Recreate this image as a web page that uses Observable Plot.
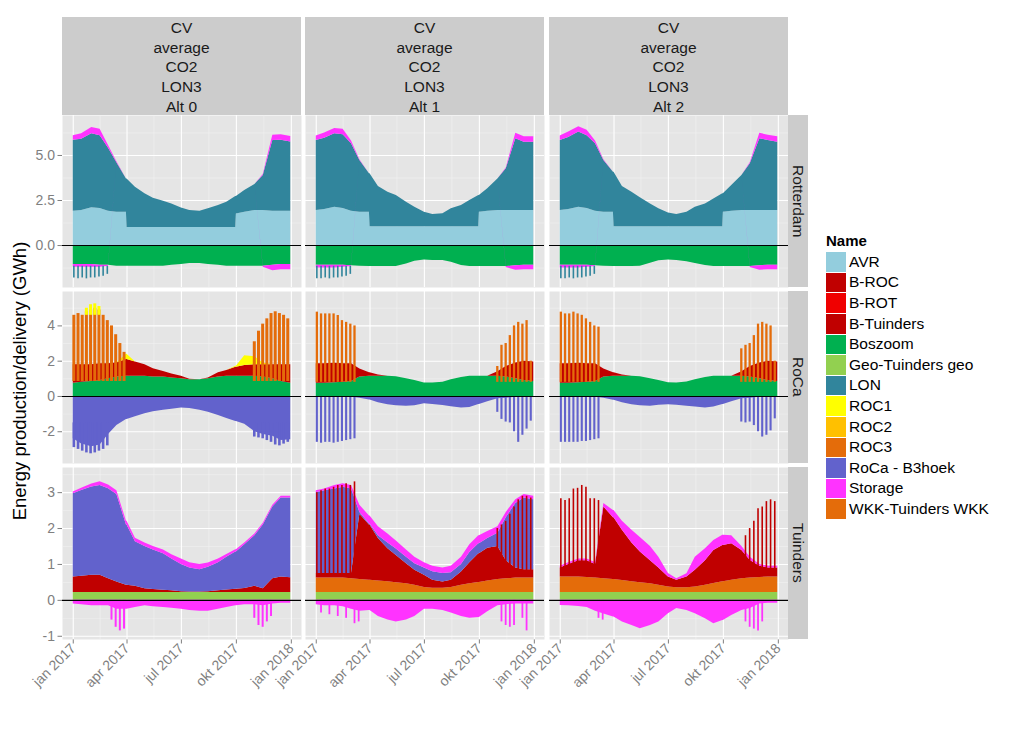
<!DOCTYPE html>
<html><head><meta charset="utf-8">
<script src="https://cdn.jsdelivr.net/npm/d3@7"></script>
<script src="https://cdn.jsdelivr.net/npm/@observablehq/plot@0.6"></script>
<style>
body{margin:0;background:#fff;}
#chart{position:relative;width:1024px;height:729px;font-family:"Liberation Sans",Arial,Helvetica,sans-serif;overflow:hidden;background:#fff;}
#chart svg{overflow:visible;}
.strip{position:absolute;background:#CCCCCC;color:#1A1A1A;font-size:15.5px;text-align:center;box-sizing:border-box;}
</style></head><body><div id="chart"></div>
<script>
// ---------- categories / labels ----------
const names = ["AVR","B-ROC","B-ROT","B-Tuinders","Boszoom","Geo-Tuinders geo","LON","ROC1","ROC2","ROC3","RoCa - B3hoek","Storage","WKK-Tuinders WKK"];
const colors = ["#93CDDD","#C00000","#F00000","#C00000","#00B050","#92D050","#31859C","#FFFF00","#FFC000","#E46C0A","#6262CC","#FF33FF","#E46C0A"];
const headerLines = ["CV","average","CO2","LON3"];
const altLabels = ["Alt 0","Alt 1","Alt 2"];
const rowLabels = ["Rotterdam","RoCa","Tuinders"];
const yTitle = "Energy production/delivery (GWh)";
const legendTitle = "Name";

const xTickDates = ["2017-01-01","2017-04-01","2017-07-01","2017-10-01","2018-01-01"];
const xTickLabels = ["jan 2017","apr 2017","jul 2017","okt 2017","jan 2018"];
const xMinorDates = ["2017-02-15","2017-05-16","2017-08-16","2017-11-16"];

const rotYTicks = [0, 2.5, 5];   const rotYLabels = ["0.0","2.5","5.0"]; const rotYMinor = [-1.25, 1.25, 3.75, 6.25];
const rocaYTicks = [-2, 0, 2, 4]; const rocaYLabels = ["-2","0","2","4"]; const rocaYMinor = [-3, -1, 1, 3, 5];
const tuiYTicks = [-1, 0, 1, 2, 3]; const tuiYLabels = ["-1","0","1","2","3"]; const tuiYMinor = [-0.5, 0.5, 1.5, 2.5, 3.5];

// ---------- dates ----------
const dates = ["2017-01-01","2017-01-15","2017-02-01","2017-02-15","2017-03-01","2017-03-15","2017-03-31","2017-04-01","2017-04-15","2017-05-01","2017-05-15","2017-06-01","2017-06-15","2017-07-01","2017-07-15","2017-08-01","2017-08-15","2017-09-01","2017-09-15","2017-09-30","2017-10-01","2017-10-15","2017-11-01","2017-11-15","2017-12-01","2017-12-15","2017-12-31"];
const spikeDates = ["2017-01-02","2017-01-09","2017-01-16","2017-01-23","2017-01-30","2017-02-06","2017-02-13","2017-02-20","2017-02-27","2017-03-06","2017-03-13","2017-03-20","2017-03-27","2017-10-31","2017-11-07","2017-11-14","2017-11-21","2017-11-28","2017-12-05","2017-12-12","2017-12-19","2017-12-26"];

// ---------- Rotterdam ----------
const rot0_AVR = [1.9,1.95,2.1,2.05,1.9,1.85,1.85,1.0,1.0,1.0,1.0,1.0,1.0,1.0,1.0,1.0,1.0,1.0,1.0,1.0,1.75,1.85,1.95,1.95,1.9,1.9,1.9];
const rot0_LON = [3.95,3.95,4.1,4.05,3.5,2.75,1.85,2.7,2.24,1.87,1.63,1.46,1.31,1.09,0.94,0.91,1.04,1.22,1.41,1.72,0.97,1.21,1.44,1.94,3.93,3.95,3.85];
const rot0_StoragePos = [0.25,0.3,0.35,0.35,0.15,0.05,0,0,0,0,0,0,0,0,0,0,0,0,0,0,0,0,0,0.05,0.3,0.3,0.3];
const rot0_BoszoomNeg = [-1.05,-1.05,-1.05,-1.1,-1.1,-1.15,-1.15,-1.15,-1.15,-1.15,-1.15,-1.15,-1.1,-1.05,-1.0,-1.0,-1.05,-1.1,-1.15,-1.15,-1.15,-1.15,-1.15,-1.15,-1.1,-1.05,-1.05];
const rot0_StorageNeg = [-0.15,-0.15,-0.15,-0.1,-0.05,0,0,0,0,0,0,0,0,0,0,0,0,0,0,0,0,0,0,-0.05,-0.3,-0.3,-0.3];
const rot0_LONSpikeBase = -1.15;
const rot0_LONSpikes = [-1.8,-1.85,-1.8,-1.85,-1.8,-1.8,-1.75,-1.7,-1.6,null,null,null,null,null,null,null,null,null,null,null,null,null];

const rot1_AVR = [1.95,2.0,2.13,2.05,1.9,1.85,1.85,1.05,1.05,1.05,1.05,1.05,1.05,1.05,1.05,1.05,1.05,1.05,1.05,1.05,1.85,1.9,1.95,1.95,1.95,1.95,1.95];
const rot1_LON = [3.88,3.95,4.07,4.1,3.75,2.87,2.13,2.93,2.23,1.91,1.73,1.36,1.08,0.8,0.67,0.71,0.99,1.17,1.45,1.73,0.93,1.25,1.75,2.31,3.98,3.79,3.79];
const rot1_StoragePos = [0.25,0.3,0.3,0.3,0.15,0.05,0,0,0,0,0,0,0,0,0,0,0,0,0,0,0,0,0,0.05,0.3,0.3,0.3];
const rot1_BoszoomNeg = [-1.1,-1.1,-1.1,-1.1,-1.12,-1.15,-1.17,-1.17,-1.17,-1.17,-1.17,-1.02,-0.87,-0.8,-0.83,-0.83,-0.93,-1.11,-1.17,-1.17,-1.17,-1.17,-1.17,-1.17,-1.12,-1.1,-1.1];
const rot1_StorageNeg = [-0.15,-0.15,-0.15,-0.1,-0.05,0,0,0,0,0,0,0,0,0,0,0,0,0,0,0,0,0,0,-0.05,-0.25,-0.25,-0.25];
const rot1_LONSpikeBase = -1.15;
const rot1_LONSpikes = [-1.85,-1.85,-1.8,-1.85,-1.8,-1.8,-1.75,-1.7,-1.6,null,null,null,null,null,null,null,null,null,null,null,null,null];

const rot2_AVR = [1.95,2.0,2.13,2.05,1.9,1.85,1.85,1.05,1.05,1.05,1.05,1.05,1.05,1.05,1.05,1.05,1.05,1.05,1.05,1.05,1.85,1.9,1.95,1.95,1.95,1.95,1.95];
const rot2_LON = [3.88,4.0,4.17,4.05,3.75,2.87,2.22,3.02,2.23,1.91,1.6,1.26,0.99,0.75,0.67,0.8,1.08,1.26,1.54,1.82,1.02,1.43,1.94,2.59,3.98,3.88,3.79];
const rot2_StoragePos = [0.25,0.3,0.3,0.3,0.15,0.05,0,0,0,0,0,0,0,0,0,0,0,0,0,0,0,0,0,0.05,0.3,0.3,0.3];
const rot2_BoszoomNeg = [-1.1,-1.1,-1.1,-1.1,-1.12,-1.15,-1.17,-1.17,-1.17,-1.17,-1.15,-0.98,-0.85,-0.8,-0.83,-0.9,-1.0,-1.11,-1.17,-1.17,-1.17,-1.17,-1.17,-1.17,-1.12,-1.1,-1.1];
const rot2_StorageNeg = [-0.15,-0.15,-0.15,-0.1,-0.05,0,0,0,0,0,0,0,0,0,0,0,0,0,0,0,0,0,0,-0.05,-0.25,-0.25,-0.25];
const rot2_LONSpikeBase = -1.15;
const rot2_LONSpikes = [-1.85,-1.85,-1.8,-1.85,-1.8,-1.8,-1.75,-1.7,-1.6,null,null,null,null,null,null,null,null,null,null,null,null,null];

// ---------- RoCa ----------
const roca0_Boszoom = [0.75,0.8,0.85,0.9,1.0,1.1,1.15,1.15,1.15,1.15,1.1,1.1,1.05,1.0,0.95,0.95,1.0,1.1,1.15,1.15,1.15,1.15,1.15,1.1,1.0,0.85,0.75];
const roca0_BROC = [1.05,1.0,0.95,0.95,0.85,0.8,0.95,0.95,0.8,0.65,0.47,0.32,0.23,0.15,0.02,0,0.05,0.24,0.32,0.51,0.51,0.61,0.65,0.7,0.8,0.95,1.05];
const roca0_ROC1 = [0,0,0,0,0,0,0.3,0.3,0,0,0,0,0,0,0,0,0,0,0,0.05,0.05,0.55,0.45,0.1,0,0,0];
const roca0_B3hoek = [-2.4,-2.7,-2.85,-2.75,-2.15,-1.64,-1.3,-1.3,-1.15,-0.98,-0.87,-0.78,-0.72,-0.66,-0.68,-0.78,-0.9,-1.08,-1.25,-1.42,-1.42,-1.58,-2.0,-2.15,-2.25,-2.5,-2.45];
const roca0_ROC3SpikeBase = 0.85;
const roca0_ROC3Spikes = [4.6,4.7,4.6,4.8,4.9,5.0,4.9,4.6,4.3,4.0,3.5,3.0,2.5,3.1,3.7,4.1,4.4,4.7,4.8,4.7,4.6,4.4];
const roca0_ROC1SpikeBase = 4.6;
const roca0_ROC1Spikes = [null,null,null,5.0,5.2,5.25,5.1,null,null,null,null,null,null,null,null,null,null,null,null,null,null,null];
const roca0_B3hoekSpikeBase = -1.5;
const roca0_B3hoekSpikes = [-2.9,-3.0,-3.1,-3.2,-3.25,-3.2,-3.1,-3.0,-2.8,null,null,null,null,-2.3,-2.35,-2.4,-2.5,-2.6,-2.75,-2.8,-2.7,-2.6];

const roca1_Boszoom = [0.75,0.75,0.78,0.8,0.85,1.1,1.15,1.15,1.15,1.15,1.12,1.0,0.91,0.77,0.77,0.8,0.95,1.08,1.15,1.15,1.15,1.15,1.15,1.1,1.0,0.9,0.85];
const roca1_BROC = [1.1,1.1,1.1,1.05,1.0,0.45,0.2,0.2,0.07,0,0,0,0,0,0,0,0,0,0,0,0,0,0.25,0.6,0.9,1.1,1.1];
const roca1_B3hoek = [-0.05,-0.05,-0.05,-0.05,-0.05,-0.1,-0.2,-0.2,-0.35,-0.47,-0.52,-0.55,-0.52,-0.42,-0.45,-0.51,-0.58,-0.66,-0.62,-0.45,-0.45,-0.3,-0.13,-0.1,-0.05,-0.05,-0.05];
const roca1_ROC3SpikeBase = 0.8;
const roca1_ROC3Spikes = [4.78,4.68,4.68,4.68,4.68,4.59,4.3,4.2,4.1,4.0,null,null,null,1.7,2.9,3.0,3.45,4.0,4.2,4.1,4.3,2.0];
const roca1_B3hoekSpikeBase = 0;
const roca1_B3hoekSpikes = [-2.6,-2.65,-2.6,-2.6,-2.65,-2.6,-2.55,-2.5,-2.45,-2.4,null,null,null,-0.9,-1.3,-1.45,-1.5,-2.0,-2.6,-2.2,-1.85,-1.4];

const roca2_Boszoom = [0.75,0.75,0.78,0.8,0.85,1.1,1.15,1.15,1.15,1.15,1.12,1.0,0.9,0.78,0.77,0.82,0.95,1.08,1.15,1.15,1.15,1.15,1.15,1.1,1.0,0.9,0.85];
const roca2_BROC = [1.1,1.1,1.1,1.05,1.0,0.45,0.2,0.2,0.07,0,0,0,0,0,0,0,0,0,0,0,0,0,0.25,0.6,0.9,1.1,1.1];
const roca2_B3hoek = [-0.05,-0.05,-0.05,-0.05,-0.05,-0.1,-0.22,-0.22,-0.35,-0.47,-0.52,-0.55,-0.5,-0.47,-0.5,-0.55,-0.6,-0.66,-0.6,-0.45,-0.45,-0.3,-0.13,-0.1,-0.05,-0.05,-0.05];
const roca2_ROC3SpikeBase = 0.8;
const roca2_ROC3Spikes = [4.78,4.68,4.68,4.78,4.68,4.6,4.4,4.2,4.0,3.93,null,null,null,2.7,2.9,3.0,3.45,4.1,4.2,4.1,4.0,2.0];
const roca2_B3hoekSpikeBase = 0;
const roca2_B3hoekSpikes = [-2.6,-2.6,-2.6,-2.6,-2.6,-2.55,-2.55,-2.5,-2.45,-2.4,null,null,null,-1.45,-1.5,-1.45,-1.65,-2.0,-2.3,-2.2,-1.95,-1.27];

// ---------- Tuinders ----------
const tui0_Geo = [0.22,0.22,0.22,0.22,0.22,0.22,0.22,0.22,0.22,0.22,0.22,0.22,0.22,0.22,0.22,0.22,0.22,0.22,0.22,0.22,0.22,0.22,0.22,0.22,0.22,0.22,0.22];
const tui0_BTuinders = [0.43,0.45,0.48,0.48,0.38,0.29,0.2,0.2,0.17,0.1,0.08,0.06,0.05,0.02,0.01,0.01,0.02,0.05,0.07,0.09,0.09,0.11,0.17,0.1,0.38,0.43,0.41];
const tui0_B3hoek = [2.32,2.39,2.46,2.5,2.51,2.44,1.68,1.68,1.24,1.18,1.1,1.02,0.88,0.76,0.67,0.62,0.68,0.78,0.91,1.04,1.04,1.22,1.41,1.78,2.0,2.2,2.22];
const tui0_StoragePos = [0.05,0.06,0.08,0.1,0.1,0.1,0.1,0.1,0.1,0.1,0.1,0.1,0.12,0.15,0.15,0.15,0.12,0.1,0.08,0.06,0.06,0.05,0.05,0.05,0.05,0.05,0.05];
const tui0_StorageNeg = [-0.1,-0.12,-0.15,-0.15,-0.15,-0.25,-0.25,-0.25,-0.2,-0.15,-0.18,-0.2,-0.22,-0.25,-0.28,-0.3,-0.3,-0.25,-0.2,-0.15,-0.15,-0.12,-0.12,-0.15,-0.1,-0.08,-0.08];
const tui0_StorageSpikeBase = 0;
const tui0_StorageSpikes = [null,null,null,null,null,null,null,null,null,-0.55,-0.75,-0.85,-0.8,-0.5,-0.7,-0.75,-0.6,-0.45,null,null,null,null];

const tui1_Geo = [0.22,0.22,0.22,0.22,0.22,0.22,0.22,0.22,0.22,0.22,0.22,0.22,0.22,0.22,0.22,0.22,0.22,0.22,0.22,0.22,0.22,0.22,0.22,0.22,0.22,0.22,0.22];
const tui1_WKK = [0.40,0.40,0.40,0.40,0.38,0.36,0.34,0.34,0.32,0.30,0.27,0.24,0.20,0.14,0.12,0.12,0.14,0.20,0.24,0.28,0.28,0.32,0.36,0.38,0.40,0.40,0.40];
const tui1_BTuinders = [0.13,0.13,0.13,0.13,0.15,1.82,1.54,1.54,1.18,0.92,0.76,0.56,0.42,0.34,0.22,0.17,0.2,0.37,0.59,0.8,0.8,0.91,0.92,0.5,0.28,0.23,0.23];
const tui1_B3hoek = [2.25,2.3,2.35,2.4,2.35,0.05,0.03,0.03,0.08,0.16,0.18,0.18,0.18,0.2,0.24,0.24,0.21,0.21,0.28,0.28,0.28,0.27,0.37,1.2,1.8,2.0,1.95];
const tui1_StoragePos = [0.05,0.05,0.1,0.1,0.1,0.2,0.22,0.22,0.25,0.25,0.22,0.2,0.18,0.15,0.15,0.15,0.18,0.2,0.22,0.22,0.22,0.2,0.18,0.15,0.1,0.1,0.1];
const tui1_StorageNeg = [-0.12,-0.15,-0.15,-0.18,-0.25,-0.3,-0.28,-0.28,-0.45,-0.55,-0.6,-0.55,-0.45,-0.25,-0.25,-0.28,-0.35,-0.45,-0.5,-0.48,-0.48,-0.32,-0.15,-0.12,-0.1,-0.1,-0.1];
const tui1_BTuindersSpikeBase = 0.7;
const tui1_BTuindersSpikes = [3.0,3.05,3.1,3.1,3.15,3.2,3.2,3.25,3.2,3.3,null,null,null,2.0,2.1,2.2,2.4,2.6,2.8,2.9,2.9,2.85];
const tui1_StorageSpikeBase = 0;
const tui1_StorageSpikes = [null,-0.35,null,-0.4,null,-0.45,null,-0.5,null,-0.65,-0.6,null,null,null,-0.6,-0.7,-0.75,-0.7,null,-0.5,-0.85,null];

const tui2_Geo = [0.22,0.22,0.22,0.22,0.22,0.22,0.22,0.22,0.22,0.22,0.22,0.22,0.22,0.22,0.22,0.22,0.22,0.22,0.22,0.22,0.22,0.22,0.22,0.22,0.22,0.22,0.22];
const tui2_WKK = [0.43,0.43,0.43,0.42,0.4,0.38,0.36,0.36,0.33,0.3,0.27,0.24,0.2,0.15,0.13,0.13,0.15,0.2,0.25,0.3,0.3,0.34,0.38,0.4,0.42,0.43,0.43];
const tui2_BTuinders = [0.25,0.35,0.45,0.46,0.38,2.0,1.72,1.72,1.4,1.08,0.86,0.64,0.48,0.28,0.21,0.3,0.47,0.68,0.92,1.01,1.01,1.02,0.79,0.49,0.31,0.25,0.25];
const tui2_StoragePos = [0.05,0.05,0.05,0.05,0.05,0.1,0.2,0.2,0.25,0.35,0.4,0.4,0.3,0.1,0.04,0.09,0.36,0.34,0.28,0.28,0.28,0.22,0.11,0.09,0.05,0.05,0.05];
const tui2_StorageNeg = [-0.14,-0.15,-0.17,-0.2,-0.3,-0.38,-0.46,-0.46,-0.6,-0.7,-0.79,-0.7,-0.6,-0.37,-0.23,-0.28,-0.37,-0.51,-0.65,-0.56,-0.56,-0.42,-0.28,-0.23,-0.1,-0.08,-0.08];
const tui2_BTuindersSpikeBase = 0.8;
const tui2_BTuindersSpikes = [2.83,2.78,2.83,3.1,3.12,3.2,3.15,2.83,2.83,2.78,null,null,null,null,1.8,2.0,2.2,2.55,2.6,2.75,2.8,2.75];
const tui2_StorageSpikeBase = 0;
const tui2_StorageSpikes = [null,null,null,null,null,null,null,null,null,-0.5,-0.55,null,null,null,-0.6,-0.75,-0.8,-0.85,-0.6,null,null,null];

// ---------- panel configuration ----------
const rowDomains = [[-2.33, 7.22], [-3.8, 5.95], [-1.09, 3.70]];
const rowTicks = [[rotYTicks, rotYLabels, rotYMinor], [rocaYTicks, rocaYLabels, rocaYMinor], [tuiYTicks, tuiYLabels, tuiYMinor]];

const panels = [
  [
    {series: [["AVR", rot0_AVR], ["LON", rot0_LON], ["Storage", rot0_StoragePos], ["Boszoom", rot0_BoszoomNeg], ["Storage", rot0_StorageNeg]],
     spikes: [["LON", rot0_LONSpikeBase, rot0_LONSpikes, 1.6]]},
    {series: [["AVR", rot1_AVR], ["LON", rot1_LON], ["Storage", rot1_StoragePos], ["Boszoom", rot1_BoszoomNeg], ["Storage", rot1_StorageNeg]],
     spikes: [["LON", rot1_LONSpikeBase, rot1_LONSpikes, 1.6]]},
    {series: [["AVR", rot2_AVR], ["LON", rot2_LON], ["Storage", rot2_StoragePos], ["Boszoom", rot2_BoszoomNeg], ["Storage", rot2_StorageNeg]],
     spikes: [["LON", rot2_LONSpikeBase, rot2_LONSpikes, 1.6]]}
  ],
  [
    {series: [["Boszoom", roca0_Boszoom], ["B-ROC", roca0_BROC], ["ROC1", roca0_ROC1], ["RoCa - B3hoek", roca0_B3hoek]],
     spikes: [["ROC3", roca0_ROC3SpikeBase, roca0_ROC3Spikes, 3], ["ROC1", roca0_ROC1SpikeBase, roca0_ROC1Spikes, 3], ["RoCa - B3hoek", roca0_B3hoekSpikeBase, roca0_B3hoekSpikes, 2.6]]},
    {series: [["Boszoom", roca1_Boszoom], ["B-ROC", roca1_BROC], ["RoCa - B3hoek", roca1_B3hoek]],
     spikes: [["ROC3", roca1_ROC3SpikeBase, roca1_ROC3Spikes, 2.3], ["RoCa - B3hoek", roca1_B3hoekSpikeBase, roca1_B3hoekSpikes, 2.1]]},
    {series: [["Boszoom", roca2_Boszoom], ["B-ROC", roca2_BROC], ["RoCa - B3hoek", roca2_B3hoek]],
     spikes: [["ROC3", roca2_ROC3SpikeBase, roca2_ROC3Spikes, 2.3], ["RoCa - B3hoek", roca2_B3hoekSpikeBase, roca2_B3hoekSpikes, 2.1]]}
  ],
  [
    {series: [["Geo-Tuinders geo", tui0_Geo], ["B-Tuinders", tui0_BTuinders], ["RoCa - B3hoek", tui0_B3hoek], ["Storage", tui0_StoragePos], ["Storage", tui0_StorageNeg]],
     spikes: [["Storage", tui0_StorageSpikeBase, tui0_StorageSpikes, 2]]},
    {series: [["Geo-Tuinders geo", tui1_Geo], ["WKK-Tuinders WKK", tui1_WKK], ["B-Tuinders", tui1_BTuinders], ["RoCa - B3hoek", tui1_B3hoek], ["Storage", tui1_StoragePos], ["Storage", tui1_StorageNeg]],
     spikes: [["B-Tuinders", tui1_BTuindersSpikeBase, tui1_BTuindersSpikes, 1.6], ["Storage", tui1_StorageSpikeBase, tui1_StorageSpikes, 1.8]]},
    {series: [["Geo-Tuinders geo", tui2_Geo], ["WKK-Tuinders WKK", tui2_WKK], ["B-Tuinders", tui2_BTuinders], ["Storage", tui2_StoragePos], ["Storage", tui2_StorageNeg]],
     spikes: [["B-Tuinders", tui2_BTuindersSpikeBase, tui2_BTuindersSpikes, 1.6], ["Storage", tui2_StorageSpikeBase, tui2_StorageSpikes, 1.8]]}
  ]
];

// ---------- layout ----------
const colLefts = [62, 305, 549];
const rowTops = [115, 291, 467];
const PW = 239, PH = 172;
const xDomain = [new Date("2016-12-14"), new Date("2018-01-18")];
const xLabelMap = new Map(xTickDates.map((d, i) => [+new Date(d), xTickLabels[i]]));
const FONT = '"Liberation Sans", Arial, Helvetica, sans-serif';

const chart = document.getElementById("chart");
function add(el, left, top) {
  el.style.position = "absolute";
  el.style.left = left + "px";
  el.style.top = top + "px";
  chart.appendChild(el);
  return el;
}

panels.forEach((rowPanels, r) => rowPanels.forEach((p, c) => {
  const isLeft = c === 0, isBottom = r === 2;
  const mL = isLeft ? 62 : 0, mB = isBottom ? 80 : 0;
  const [yt, yl, ym] = rowTicks[r];
  const yLabelMap = new Map(yt.map((v, i) => [v, yl[i]]));

  const rows = [];
  p.series.forEach(([name, vals], k) => vals.forEach((v, i) => rows.push({date: new Date(dates[i]), value: v, name, k})));
  const order = p.series.map((_, k) => k);

  const spikeMarks = p.spikes.map(([name, base, tops, w]) => {
    const sp = [];
    tops.forEach((t, i) => { if (t != null) sp.push({date: new Date(spikeDates[i]), lo: base, hi: t, name}); });
    return Plot.ruleX(sp, {x: "date", y1: "lo", y2: "hi", stroke: "name", strokeWidth: w});
  });

  const svg = Plot.plot({
    width: PW + mL, height: PH + mB,
    marginLeft: mL, marginRight: 0, marginTop: 0, marginBottom: mB,
    style: {fontFamily: FONT, fontSize: "14px", color: "#7F7F7F", background: "transparent", overflow: "visible"},
    x: {type: "utc", domain: xDomain, axis: isBottom ? "bottom" : null, ticks: xTickDates.map(d => new Date(d)),
        tickFormat: d => xLabelMap.get(+d), tickRotate: -45, tickSize: 4.5, tickPadding: 2, label: null},
    y: {domain: rowDomains[r], axis: isLeft ? "left" : null, ticks: yt, tickFormat: d => yLabelMap.get(d),
        tickSize: 4.5, tickPadding: 3, label: null},
    color: {domain: names, range: colors},
    marks: [
      Plot.frame({fill: "#E5E5E5", stroke: "none"}),
      Plot.ruleY(ym, {stroke: "#F2F2F2", strokeWidth: 0.55}),
      Plot.ruleX(xMinorDates.map(d => new Date(d)), {stroke: "#F2F2F2", strokeWidth: 0.55}),
      Plot.ruleY(yt, {stroke: "#FFFFFF", strokeWidth: 1.1}),
      Plot.ruleX(xTickDates.map(d => new Date(d)), {stroke: "#FFFFFF", strokeWidth: 1.1}),
      Plot.areaY(rows, {x: "date", y: "value", z: "k", fill: "name", order}),
      ...spikeMarks,
      Plot.ruleY([0], {stroke: "#000000", strokeWidth: 1.1})
    ]
  });
  add(svg, colLefts[c] - mL, rowTops[r]);
}));

// ---------- column strips ----------
altLabels.forEach((alt, c) => {
  const d = document.createElement("div");
  d.className = "strip";
  d.style.width = PW + "px";
  d.style.height = "98px";
  d.style.lineHeight = "19.7px";
  d.style.paddingTop = "1px";
  d.innerHTML = [...headerLines, alt].map(t => `<div>${t}</div>`).join("");
  add(d, colLefts[c], 17);
});

// ---------- row strips ----------
rowLabels.forEach((lab, r) => {
  const d = document.createElement("div");
  d.className = "strip";
  d.style.width = "20px";
  d.style.height = PH + "px";
  d.style.display = "flex";
  d.style.alignItems = "center";
  d.style.justifyContent = "center";
  const s = document.createElement("span");
  s.textContent = lab;
  s.style.writingMode = "vertical-rl";
  s.style.whiteSpace = "nowrap";
  d.appendChild(s);
  add(d, 788, rowTops[r]);
});

// ---------- y title ----------
{
  const d = document.createElement("div");
  d.textContent = yTitle;
  d.style.fontSize = "18.5px";
  d.style.color = "#000";
  d.style.whiteSpace = "nowrap";
  d.style.lineHeight = "20px";
  d.style.transform = "translate(-50%,-50%) rotate(-90deg)";
  add(d, 20, 381);
}

// ---------- legend ----------
{
  const t = document.createElement("div");
  t.textContent = legendTitle;
  t.style.fontSize = "15px";
  t.style.fontWeight = "bold";
  t.style.color = "#000";
  t.style.lineHeight = "16px";
  add(t, 826, 233);
  names.forEach((n, i) => {
    const top = 251.7 + i * 20.6;
    const sw = document.createElement("div");
    sw.style.width = "20px";
    sw.style.height = "19.6px";
    sw.style.background = colors[i];
    add(sw, 826, top + 0.5);
    const lb = document.createElement("div");
    lb.textContent = n;
    lb.style.fontSize = "15.5px";
    lb.style.color = "#000";
    lb.style.lineHeight = "20.6px";
    lb.style.whiteSpace = "nowrap";
    add(lb, 849, top);
  });
}
</script></body></html>
